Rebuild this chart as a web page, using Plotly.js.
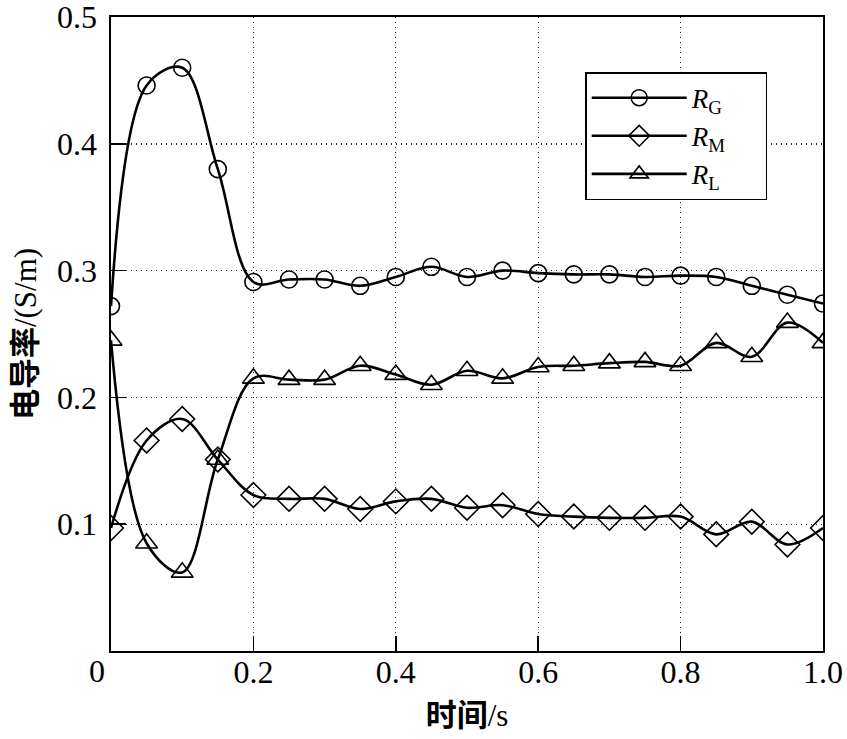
<!DOCTYPE html>
<html>
<head>
<meta charset="utf-8">
<script src="https://cdn.plot.ly/plotly-3.0.1.min.js"></script>
<style>
    html, body { margin:0; padding:0; background:#ffffff; }
    #conductivity { width:847px; height:739px; }
</style>
</head>
<body>

<div id="conductivity"></div>

<script>

/* ==========================================
   DATA
========================================== */

const timeValues = [0, 0.05, 0.1, 0.15, 0.2, 0.25, 0.3, 0.35, 0.4, 0.45, 0.5,
                    0.55, 0.6, 0.65, 0.7, 0.75, 0.8, 0.85, 0.9, 0.95, 1.0];

const rG = [0.272, 0.446, 0.460, 0.380, 0.291, 0.293, 0.293, 0.288, 0.295, 0.303, 0.295,
            0.300, 0.298, 0.297, 0.297, 0.295, 0.296, 0.295, 0.288, 0.281, 0.274];

const rM = [0.097, 0.166, 0.183, 0.151, 0.123, 0.120, 0.120, 0.112, 0.118, 0.120, 0.113,
            0.115, 0.108, 0.106, 0.105, 0.105, 0.106, 0.092, 0.102, 0.084, 0.097];

const rL = [0.245, 0.085, 0.062, 0.151, 0.215, 0.214, 0.214, 0.225, 0.218, 0.210, 0.221,
            0.215, 0.224, 0.225, 0.227, 0.228, 0.225, 0.243, 0.232, 0.259, 0.243];

const seriesNames = ["<i>R</i><sub>G</sub>", "<i>R</i><sub>M</sub>", "<i>R</i><sub>L</sub>"];

const xTicks = [0.2, 0.4, 0.6, 0.8, 1.0];

const yTicks = [0.1, 0.2, 0.3, 0.4, 0.5];


/* ==========================================
   DRAW
========================================== */

const serif = "Liberation Serif, serif";

// latin part of the axis titles kept in serif
function latin(text){

    return "<span style='font-family:Liberation Serif, serif'>" + text + "</span>";

}

function makeTrace(values, name, symbol, size){

    return {

        x:timeValues,

        y:values,

        // non-breaking spaces widen the legend box a little
        name:name + "&nbsp;&nbsp;&nbsp;&nbsp;&nbsp;",

        mode:"lines+markers",

        line:{
            color:"#000000",
            width:2.6,
            shape:"spline",
            smoothing:1
        },

        marker:{
            symbol:symbol,
            size:size,
            color:"#000000",
            line:{ color:"#000000", width:1.6 }
        }

    };

}

const traces = [

    makeTrace(rG, seriesNames[0], "circle-open", 17),

    makeTrace(rM, seriesNames[1], "diamond-open", 19),

    makeTrace(rL, seriesNames[2], "triangle-up-open", 19)

];

const axisCommon = {

    showline:true,

    mirror:true,

    linecolor:"#000000",

    linewidth:1.6,

    ticks:"inside",

    ticklen:15,

    tickwidth:1.5,

    tickcolor:"#000000",

    showgrid:true,

    gridcolor:"#222222",

    gridwidth:1.4,

    griddash:"1px,4px",

    zeroline:false,

    ticklabeloverflow:"allow",

    tickfont:{ family:serif, size:32, color:"#000000" }

};

Plotly.newPlot(

    "conductivity",

    traces,

    {

        width:847,

        height:739,

        paper_bgcolor:"#ffffff",

        plot_bgcolor:"#ffffff",

        margin:{ l:111, r:24, t:17, b:88 },

        showlegend:true,

        legend:{
            x:0.666,
            y:0.913,
            xanchor:"left",
            yanchor:"top",
            bgcolor:"#ffffff",
            bordercolor:"#000000",
            borderwidth:1.5,
            itemwidth:95,
            font:{ family:serif, size:27, color:"#000000" }
        },

        xaxis:Object.assign({}, axisCommon, {
            range:[0, 1],
            tickvals:xTicks,
            tickformat:".1f",
            ticklabelstandoff:-8,
            title:{
                text:"<b>时间</b>" + latin("/s"),
                font:{ family:"Noto Sans CJK SC", size:31, color:"#000000" },
                standoff:15
            }
        }),

        yaxis:Object.assign({}, axisCommon, {
            range:[0, 0.5],
            tickvals:yTicks,
            tickformat:".1f",
            ticklabelstandoff:6,
            title:{
                text:"<b>电导率</b>" + latin("/(S/m)"),
                font:{ family:"Noto Sans CJK SC", size:31, color:"#000000" },
                standoff:13
            }
        }),

        annotations:[
            {
                text:"0",
                xref:"paper",
                yref:"paper",
                x:0,
                y:0,
                xanchor:"center",
                yanchor:"top",
                xshift:-14,
                yshift:0,
                showarrow:false,
                font:{ family:serif, size:32, color:"#000000" }
            }
        ]

    },

    {
        staticPlot:true
    }

);

</script>

</body>
</html>
